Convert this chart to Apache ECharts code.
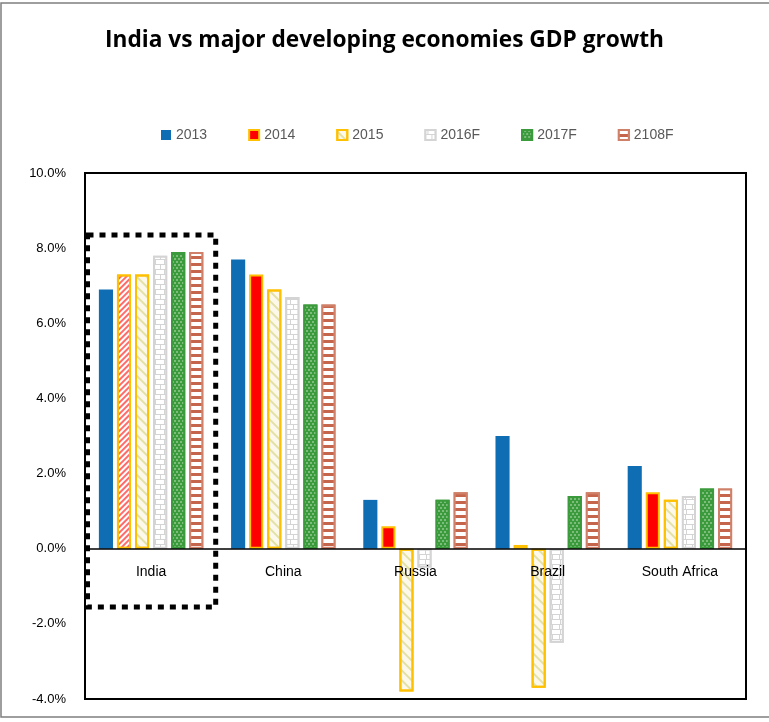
<!DOCTYPE html>
<html>
<head>
<meta charset="utf-8">
<script src="https://cdn.jsdelivr.net/npm/echarts@6/dist/echarts.min.js"></script>
<style>
  html, body { margin: 0; padding: 0; background: #fff; }
  #chart { width: 769px; height: 722px; }
</style>
</head>
<body>
<div id="chart"></div>
<script>
// data (GDP growth, %)
var countries = ['India', 'China', 'Russia', 'Brazil', 'South Africa'];
var years = ['2013', '2014', '2015', '2016F', '2017F', '2108F'];
var g2013 = [6.9, 7.7, 1.3, 3.0, 2.2];
var g2014 = [7.3, 7.3, 0.6, 0.1, 1.5];
var g2015 = [7.3, 6.9, -3.8, -3.7, 1.3];
var g2016 = [7.8, 6.7, -0.5, -2.5, 1.4];
var g2017 = [7.9, 6.5, 1.3, 1.4, 1.6];
var g2018 = [7.9, 6.5, 1.5, 1.5, 1.6];
var yTicks = [-4, -2, 0, 2, 4, 6, 8, 10];

(function () {
    var chart = echarts.init(document.getElementById('chart'));

    var gridH = 526;
    var yMin = yTicks[0], yMax = yTicks[yTicks.length - 1];
    // move the category axis up to the zero line
    var zeroOffset = gridH * (0 - yMin) / (yMax - yMin);

    var styles = [
        { color: '#0F6EB3' },
        { color: '#FF0000', borderColor: '#FFC000', borderWidth: 2 },
        {
            color: '#FCF8EA', borderColor: '#FFC000', borderWidth: 2,
            decal: { color: 'rgba(210,210,120,0.6)', symbol: 'rect', symbolSize: 1, dashArrayX: [1, 0], dashArrayY: [1.5, 5], rotation: Math.PI / 4 }
        },
        {
            color: '#D4D4D4', borderColor: '#D4D4D4', borderWidth: 2,
            decal: { color: '#ffffff', symbol: 'rect', symbolSize: 1, dashArrayX: [[6, 1], [2, 1, 6, 0]], dashArrayY: [4, 1] }
        },
        {
            color: '#3B9A3B', borderColor: '#3B9A3B', borderWidth: 2,
            decal: { color: '#CFEACF', symbol: 'circle', symbolSize: 0.8, dashArrayX: [[2, 2], [0, 2, 2, 0]], dashArrayY: [2, 1] }
        },
        {
            color: '#C5654B', borderColor: '#D08068', borderWidth: 2,
            decal: { color: '#ffffff', symbol: 'rect', symbolSize: 1, dashArrayX: [1, 0], dashArrayY: [4, 3] }
        }
    ];

    var values = [g2013, g2014, g2015, g2016, g2017, g2018];

    var series = years.map(function (y, i) {
        var data = values[i].slice();
        if (i === 1) {
            // India 2014 is drawn with a striped fill in the original
            data[0] = {
                value: g2014[0],
                itemStyle: {
                    color: '#ffffff', borderColor: '#FFC000', borderWidth: 2,
                    decal: { color: '#FF6A6A', symbol: 'rect', symbolSize: 1, dashArrayX: [1, 0], dashArrayY: [2, 2], rotation: -Math.PI / 4 }
                }
            };
        }
        return {
            name: y,
            type: 'bar',
            data: data,
            barGap: '28%',
            barCategoryGap: '21%',
            itemStyle: styles[i]
        };
    });

    chart.setOption({
        backgroundColor: '#ffffff',
        animation: false,
        title: {
            text: 'India vs major developing economies GDP growth',
            left: 'center',
            top: 24,
            textStyle: { fontFamily: 'Open Sans', fontWeight: 'bold', fontSize: 22.7, color: '#000' }
        },
        legend: {
            top: 123,
            left: 156,
            icon: 'rect',
            itemWidth: 10,
            itemHeight: 10,
            itemGap: 41,
            textStyle: { fontFamily: 'Liberation Sans', fontSize: 14, color: '#595959' },
            data: years
        },
        grid: {
            left: 85,
            top: 173,
            width: 661,
            height: gridH,
            show: true,
            borderColor: '#000',
            borderWidth: 2,
            containLabel: false
        },
        xAxis: {
            type: 'category',
            data: countries,
            position: 'bottom',
            offset: -zeroOffset,
            z: 10,
            axisLine: { onZero: false, lineStyle: { color: '#000', width: 1.5 } },
            axisTick: { show: false },
            axisLabel: { margin: 16, fontFamily: 'Liberation Sans', fontSize: 14, color: '#000' },
            splitLine: { show: false }
        },
        yAxis: {
            type: 'value',
            min: yMin,
            max: yMax,
            interval: 2,
            axisLine: { show: false },
            axisTick: { show: false },
            splitLine: { show: false },
            axisLabel: {
                margin: 19,
                fontFamily: 'Liberation Sans',
                fontSize: 13,
                color: '#000',
                formatter: function (v) { return v.toFixed(1) + '%'; }
            }
        },
        series: series
    });

    // annotations: outer frame and the dotted box round India
    var cx = chart.convertToPixel({ xAxisIndex: 0 }, 'India');
    var band = 661 / countries.length;
    var boxTop = chart.convertToPixel({ yAxisIndex: 0 }, 8.35);
    var boxBot = chart.convertToPixel({ yAxisIndex: 0 }, -1.55);
    chart.setOption({
        graphic: [
            {
                type: 'rect', silent: true, z: 100,
                shape: { x: 1, y: 3, width: 800, height: 714 },
                style: { fill: null, stroke: '#7f7f7f', lineWidth: 1.5 }
            },
            {
                type: 'rect', silent: true, z: 100,
                shape: { x: cx - band / 2 + 2.5, y: boxTop, width: band - 4, height: boxBot - boxTop },
                style: { fill: null, stroke: '#000', lineWidth: 5, lineDash: [6, 6] }
            }
        ]
    });
})();
</script>
</body>
</html>
